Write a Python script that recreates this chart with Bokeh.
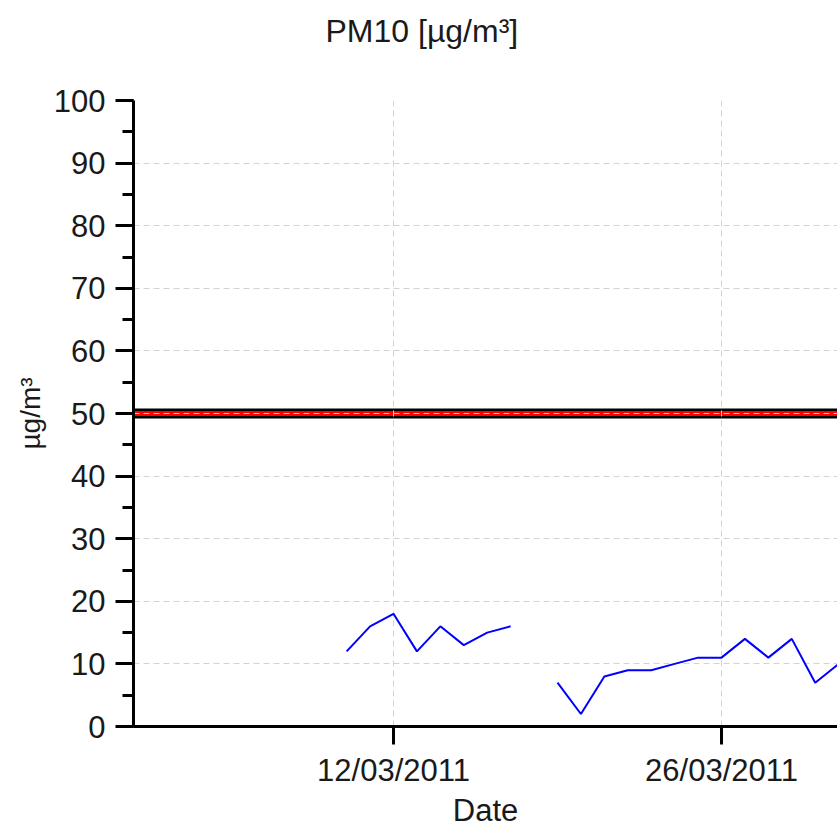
import numpy as np
import pandas as pd
from bokeh.plotting import figure
from bokeh.models import (Span, FixedTicker, SingleIntervalTicker, DatetimeTickFormatter,
                          Range1d, ColumnDataSource, Title, LinearAxis, CustomJSTickFormatter)
from bokeh.embed import file_html
from bokeh.resources import INLINE

# ---- data ----
dates = ["2011-03-10", "2011-03-11", "2011-03-12", "2011-03-13", "2011-03-14",
         "2011-03-15", "2011-03-16", "2011-03-17", "2011-03-18", "2011-03-19",
         "2011-03-20", "2011-03-21", "2011-03-22", "2011-03-23", "2011-03-24",
         "2011-03-25", "2011-03-26", "2011-03-27", "2011-03-28", "2011-03-29",
         "2011-03-30", "2011-03-31"]
pm10 = [12, 16, 18, 12, 16, 13, 15, 16, np.nan, 7,
        2, 8, 9, 9, 10, 11, 11, 14, 11, 14,
        7, 10]
tick_dates = ["2011-03-12", "2011-03-26"]
limit_value = 50
y_min, y_max = 0, 100
x_start = "2011-02-28 21:40"
x_end = "2011-03-30 22:50"
title_text = "PM10 [µg/m³]"

FONT = "Liberation Sans"

src = ColumnDataSource(dict(date=pd.to_datetime(dates), value=pm10))

p = figure(width=837, height=830, output_backend="svg", toolbar_location=None,
           x_axis_type="datetime",
           x_range=Range1d(pd.Timestamp(x_start), pd.Timestamp(x_end)),
           y_range=Range1d(y_min, y_max),
           min_border_left=133, min_border_right=0, min_border_top=100,
           min_border_bottom=103, title=None)
p.outline_line_color = None
p.background_fill_color = "white"
p.border_fill_color = "white"

xax = p.below[0]
yax = p.left[0]
tick_ms = [pd.Timestamp(d).value / 1e6 for d in tick_dates]

# invisible spacer axis between the frame and the title
spacer = LinearAxis(ticker=FixedTicker(ticks=tick_ms), axis_line_color=None,
                    major_tick_line_color=None, minor_tick_line_color=None,
                    major_tick_in=0, major_tick_out=52, minor_tick_in=0,
                    minor_tick_out=0, major_label_standoff=0,
                    formatter=CustomJSTickFormatter(code="return ' ';"),
                    major_label_text_alpha=0)
p.add_layout(spacer, "above")

# title
title = Title(text=title_text, text_font=FONT, text_font_size="32px",
              text_font_style="normal", text_color="#1a1a1a",
              align="left", offset=192, standoff=0)
p.add_layout(title, "above")

# threshold band (drawn under the grid)
span_black = Span(location=limit_value, dimension="width", line_color="black",
                  line_width=10, level="underlay")
span_red = Span(location=limit_value, dimension="width", line_color="red",
                line_width=5, level="underlay")
p.center = [span_black, span_red] + list(p.center)

p.line("date", "value", source=src, line_color="#0000ff", line_width=2)

# axes
xax.ticker = FixedTicker(ticks=tick_ms)
xax.formatter = DatetimeTickFormatter(days="%d/%m/%Y", months="%d/%m/%Y",
                                      years="%d/%m/%Y")
yax.ticker = SingleIntervalTicker(interval=10, num_minor_ticks=2)
xax.axis_label = "Date"
yax.axis_label = "µg/m³"

for ax in (xax, yax):
    ax.axis_line_width = 3
    ax.axis_line_color = "black"
    ax.major_tick_line_width = 3
    ax.major_tick_line_color = "black"
    ax.minor_tick_line_width = 3
    ax.minor_tick_line_color = "black"
    ax.major_tick_in = 0
    ax.major_tick_out = 18
    ax.minor_tick_in = 0
    ax.minor_tick_out = 11
    ax.major_label_text_font = FONT
    ax.major_label_text_font_size = "31px"
    ax.major_label_text_color = "#1a1a1a"
    ax.major_label_standoff = 10
    ax.axis_label_text_font = FONT
    ax.axis_label_text_font_style = "normal"
    ax.axis_label_text_color = "#1a1a1a"
xax.minor_tick_out = 0
xax.axis_label_text_font_size = "31px"
yax.axis_label_text_font_size = "28px"
xax.major_label_standoff = 8
xax.axis_label_standoff = 2
yax.axis_label_standoff = 5

for g in (p.xgrid, p.ygrid):
    g.grid_line_color = "#d3d3d3"
    g.grid_line_dash = "6 4"
    g.grid_line_width = 1

open("out.html", "w").write(file_html(p, INLINE))
